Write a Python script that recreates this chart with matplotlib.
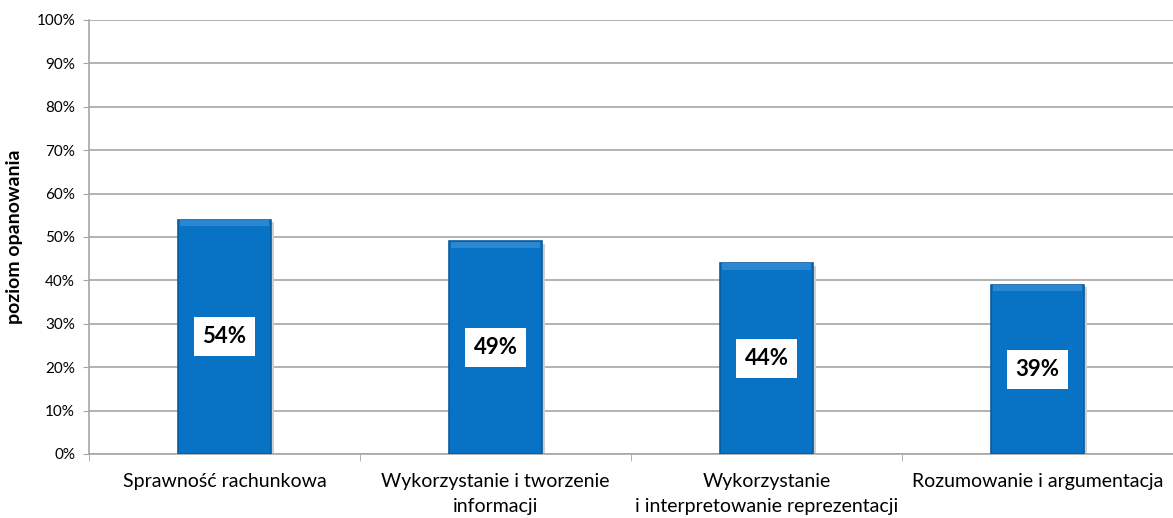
import matplotlib.pyplot as plt
import numpy as np

categories = ['Sprawność rachunkowa',
              'Wykorzystanie i tworzenie\ninformacji',
              'Wykorzystanie\ni interpretowanie reprezentacji',
              'Rozumowanie i argumentacja']
values = [54, 49, 44, 39]
y_ticks = list(range(0, 101, 10))

plt.rcParams['font.family'] = ['Lato', 'DejaVu Sans']

fig = plt.figure(figsize=(11.73, 5.18), dpi=100)
ax = fig.add_axes([0.0759, 0.1236, 0.9241, 0.8378])

x = np.arange(len(values))
bar_w = 0.34

# soft shadow, then bar with darker edge
ax.bar(x + 0.012, values, bar_w, bottom=-0.6, color='#cfcfcf', zorder=2)
bars = ax.bar(x, values, bar_w, color='#0872c4', edgecolor='#0a5c9e',
              linewidth=1.2, zorder=3)
# lighter bevel at top of each bar
ax.bar(x, [1.4] * len(values), bar_w * 0.97, bottom=np.array(values) - 1.5,
       color='#2a88d2', zorder=4)

for xi, v in zip(x, values):
    ax.text(xi, v / 2, f'{v}%', ha='center', va='center', fontsize=16,
            fontweight='bold', zorder=5,
            bbox=dict(boxstyle='square,pad=0.4', fc='white', ec='none'))

ax.set_xlim(-0.5, len(values) - 0.5)
ax.set_ylim(0, 100)
ax.set_yticks(y_ticks)
ax.set_yticklabels([f'{t}%' for t in y_ticks], fontsize=11)
ax.yaxis.grid(True, color='#a6a6a6', linewidth=1.2, zorder=1)
ax.set_axisbelow(True)

ax.set_xticks(x)
ax.set_xticklabels(categories, fontsize=14, linespacing=1.55)
ax.set_xticks(np.arange(len(values) + 1) - 0.5, minor=True)
ax.tick_params(axis='x', which='major', length=0, pad=14)
ax.tick_params(axis='x', which='minor', length=5, color='#a6a6a6')
ax.tick_params(axis='y', length=4, color='#a6a6a6', pad=6)

for s in ['top', 'right']:
    ax.spines[s].set_visible(False)
for s in ['left', 'bottom']:
    ax.spines[s].set_color('#a6a6a6')
    ax.spines[s].set_linewidth(1.2)

ax.set_ylabel('poziom opanowania', fontsize=14, fontweight='bold', labelpad=10)

fig.savefig('out.png', dpi=100)
